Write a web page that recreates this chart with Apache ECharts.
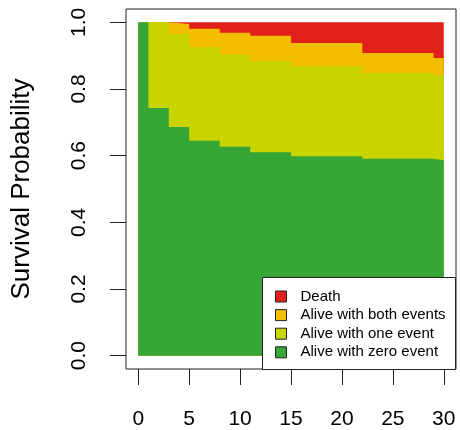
<!DOCTYPE html>
<html>
<head>
<meta charset="utf-8">
<script src="https://cdn.jsdelivr.net/npm/echarts@6/dist/echarts.min.js"></script>
<style>
html,body{margin:0;padding:0;background:#fff;}
#chart{width:460px;height:430px;}
</style>
</head>
<body>
<div id="chart"></div>
<script>
// Time points (months) where the step curves change
var times = [0, 1, 3, 5, 8, 11, 15, 22, 29, 30];
// State probabilities at each time (stacked bottom to top)
var aliveZero = [1.000, 0.743, 0.686, 0.645, 0.627, 0.610, 0.598, 0.591, 0.586, 0.586];
var aliveOne  = [0.000, 0.257, 0.279, 0.280, 0.276, 0.273, 0.270, 0.257, 0.255, 0.255];
var aliveBoth = [0.000, 0.000, 0.030, 0.056, 0.066, 0.077, 0.070, 0.060, 0.052, 0.052];
var death     = [0.000, 0.000, 0.005, 0.019, 0.031, 0.040, 0.062, 0.092, 0.107, 0.107];
var seriesNames = ['Alive with zero event', 'Alive with one event', 'Alive with both events', 'Death'];
var legendOrder = ['Death', 'Alive with both events', 'Alive with one event', 'Alive with zero event'];
var xTicks = [0, 5, 10, 15, 20, 25, 30];
var yTicks = [0, 0.2, 0.4, 0.6, 0.8, 1.0];

var colors = ['#36A636', '#C8D400', '#F3BE00', '#E2201A'];
var values = [aliveZero, aliveOne, aliveBoth, death];

// cumulative tops of each state band (bottom to top)
var cumulative = [];
values.forEach(function (arr, k) {
  cumulative.push(arr.map(function (v, i) { return (k > 0 ? cumulative[k - 1][i] : 0) + v; }));
});

function pairs(arr) { return times.map(function (t, i) { return [t, arr[i]]; }); }

var FONT = 'Liberation Sans, Arial, Helvetica, sans-serif';

var series = values.map(function (arr, k) {
  return {
    name: seriesNames[k],
    type: 'line',
    step: 'end',
    data: pairs(cumulative[k]),
    showSymbol: false,
    symbol: 'none',
    color: colors[k],
    lineStyle: { width: 0, opacity: 0 },
    areaStyle: { color: colors[k], opacity: 1, origin: 'auto' },
    itemStyle: { color: colors[k] },
    emphasis: { disabled: true },
    silent: true,
    animation: false,
    z: 2
  };
});
// draw top band first so lower bands are layered over it
series.reverse();

var chart = echarts.init(document.getElementById('chart'), null, { renderer: 'canvas' });
chart.setOption({
  animation: false,
  backgroundColor: '#ffffff',
  textStyle: { fontFamily: FONT },
  grid: {
    left: 126, top: 9, width: 330, height: 361,
    show: true, borderColor: '#222', borderWidth: 1, backgroundColor: 'transparent'
  },
  xAxis: {
    type: 'value', min: -1.2, max: 31.2,
    splitLine: { show: false },
    axisLine: { show: false, onZero: false },
    axisTick: { show: true, length: 16, customValues: xTicks, lineStyle: { color: '#222', width: 1 } },
    axisLabel: { customValues: xTicks, fontSize: 21, color: '#000', margin: 40, fontFamily: FONT }
  },
  yAxis: {
    type: 'value', min: -0.04, max: 1.04,
    name: 'Survival Probability',
    nameLocation: 'middle',
    nameGap: 91,
    nameTextStyle: { fontSize: 26, color: '#000', fontFamily: FONT },
    splitLine: { show: false },
    axisLine: { show: false, onZero: false },
    axisTick: { show: true, length: 16, customValues: yTicks, lineStyle: { color: '#222', width: 1 } },
    axisLabel: {
      customValues: yTicks, rotate: 90, fontSize: 21, color: '#000', margin: 36, fontFamily: FONT,
      formatter: function (v) { return Number(v).toFixed(1); }
    }
  },
  legend: {
    data: legendOrder,
    orient: 'vertical',
    left: 275, top: 289,
    itemWidth: 11, itemHeight: 11, itemGap: 3.6,
    padding: 0,
    icon: 'rect',
    itemStyle: { borderColor: '#222', borderWidth: 1 },
    textStyle: { fontSize: 15, color: '#000', fontFamily: FONT, padding: [0, 0, 0, 9] },
    selectedMode: false,
    z: 20
  },
  graphic: [{
    type: 'rect', z: 10,
    shape: { x: 262.5, y: 277.5, width: 193, height: 92 },
    style: { fill: '#fff', stroke: '#222', lineWidth: 1 }
  }],
  series: series
});
</script>
</body>
</html>
